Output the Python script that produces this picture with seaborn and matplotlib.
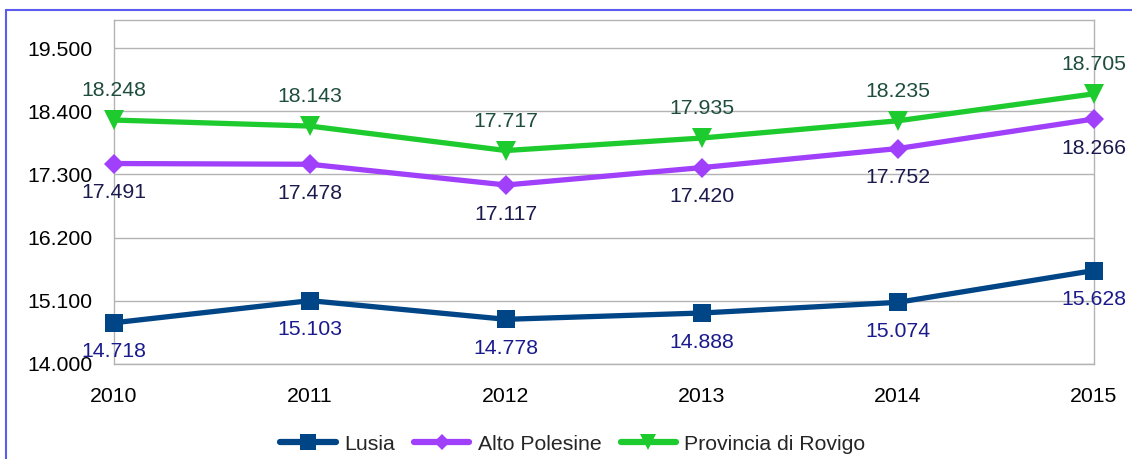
import matplotlib
matplotlib.use("Agg")
import matplotlib.pyplot as plt
import seaborn as sns
import pandas as pd
from matplotlib.lines import Line2D

years = [2010, 2011, 2012, 2013, 2014, 2015]
lusia = [14718, 15103, 14778, 14888, 15074, 15628]
alto_polesine = [17491, 17478, 17117, 17420, 17752, 18266]
provincia_rovigo = [18248, 18143, 17717, 17935, 18235, 18705]
series_names = ["Lusia", "Alto Polesine", "Provincia di Rovigo"]
y_ticks = [14000, 15100, 16200, 17300, 18400, 19500]

sns.set_theme(style="white")
plt.rcParams['font.family'] = ['Liberation Sans', 'DejaVu Sans']
FS = 15.3

def fmt(v):
    return f"{v:,}".replace(",", ".")

fig = plt.figure(figsize=(11.32, 4.59), dpi=100)
ax = fig.add_axes([114/1132, 1-364/459, (1094-114)/1132, (364-20)/459])

styles = [
    dict(color="#004586", marker="s", ms=13, lab_color="#1a1a8c", off=-21),
    dict(color="#a040fa", marker="D", ms=10, lab_color="#1a1a4d", off=-21),
    dict(color="#1ecb2e", marker="v", ms=14, lab_color="#1e4d3e", off=21),
]
values = [lusia, alto_polesine, provincia_rovigo]

handles = []
for name, vals, st in zip(series_names, values, styles):
    df = pd.DataFrame({"year": years, "value": vals})
    sns.lineplot(data=df, x="year", y="value", ax=ax, color=st["color"], lw=3.8,
                 marker=st["marker"], markersize=st["ms"], markeredgewidth=0,
                 clip_on=False, zorder=3)
    for x, v in zip(years, vals):
        ax.annotate(fmt(v), (x, v), xytext=(0, st["off"]), textcoords="offset points",
                    ha="center", va="center", fontsize=FS, color=st["lab_color"],
                    annotation_clip=False, zorder=4)
    handles.append(Line2D([], [], color=st["color"], lw=4.5, marker=st["marker"],
                          markersize=st["ms"] * 0.85, markeredgewidth=0))

ax.set_xlim(2010, 2015)
ax.set_ylim(14000, 19990)
ax.set_xticks(years)
ax.set_xticklabels([str(y) for y in years])
ax.set_yticks(y_ticks)
ax.set_yticklabels([fmt(v) for v in y_ticks])
ax.set_xlabel("")
ax.set_ylabel("")
ax.grid(axis="y", color="#b3b3b3", lw=1)
ax.grid(axis="x", visible=False)
for sp in ax.spines.values():
    sp.set_color("#b3b3b3")
    sp.set_linewidth(1)
ax.tick_params(axis="both", direction="out", length=7.5, width=1, color="#b3b3b3",
               labelsize=FS, labelcolor="black")
ax.tick_params(axis="x", pad=9)
ax.tick_params(axis="y", pad=8)

fig.legend(handles, series_names, loc="center", bbox_to_anchor=(573/1132, 1-444/459),
           ncol=3, frameon=False, fontsize=FS, handlelength=2.6, handletextpad=0.4,
           columnspacing=0.9)

# outer chart border (blue)
fig.add_artist(Line2D([6/1132, 1.0], [1-10/459, 1-10/459], color="#5b5bf0", lw=1.5,
                      transform=fig.transFigure))
fig.add_artist(Line2D([6/1132, 6/1132], [0, 1-10/459], color="#5b5bf0", lw=1.5,
                      transform=fig.transFigure))

fig.savefig("out.png", dpi=100)
